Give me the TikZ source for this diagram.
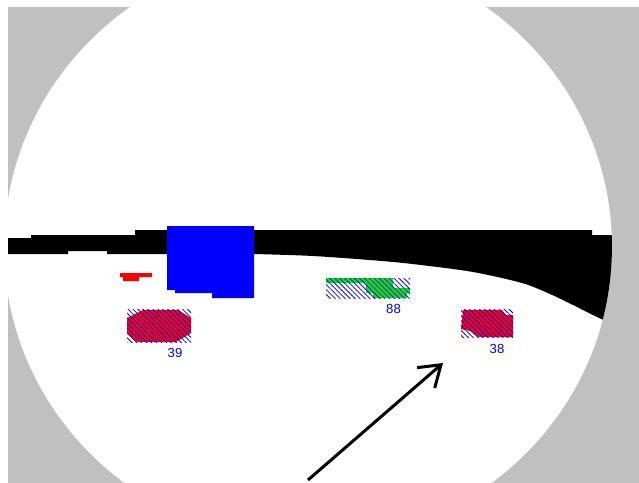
\documentclass[tikz,border=0pt]{standalone}
\usepackage{fontspec}
\newfontfamily\lblfont{Liberation Sans}
\usetikzlibrary{
	arrows.meta,
	patterns.meta
}
\definecolor{scopegray}{RGB}{192,192,192}
\definecolor{echogreen}{RGB}{0,235,0}

\begin{document}
\begin{tikzpicture}[
			x=0.02cm,
			y=-0.02cm,
			hatch/.style={
				pattern={Lines[angle=-45,distance=0.07cm,line width=0.016cm]},
				pattern color=blue
			},
			echo/.style={
				fill=red
			},
			lbl/.style={
				text=blue,
				inner sep=0pt,
				font=\lblfont\fontsize{7.5pt}{9pt}\selectfont
			},
			arr/.style={
				line width=0.06cm,
				-{Straight Barb[length=0.4cm,width=0.54cm]}
			}
			]
			
			\fill[white] (0,0) rectangle (639,483);
			\useasboundingbox (0,0) rectangle (639,483);
			
			\begin{scope}
				\clip (8,7) rectangle (639,483);
				\fill[scopegray] (8,7) rectangle (639,483);
				\fill[white] (308,247) ellipse [x radius=6.08cm, y radius=5.92cm];
				\clip (308,247) ellipse [x radius=6.08cm, y radius=5.92cm];
				\fill[black] (0,238) -- (31,238) -- (31,235) -- (135,235) -- (135,230)
					-- (592,230) -- (592,235) -- (640,235) -- (640,332)
					-- plot[smooth] coordinates {(620,327) (597,317) (573,305) (550,294) (522,283) (473,272) (421,265) (382,261) (313,256) (254,254)}
					-- (107,254) -- (107,251) -- (68,251) -- (68,254) -- (0,254) -- cycle;
			\end{scope}
			
			\fill[blue] (167,226) -- (254,226) -- (254,298) -- (212,298) -- (212,293)
				-- (175,293) -- (175,290) -- (167,290) -- cycle;
			
			\fill[red] (120,273) rectangle (152,277) (123,277) rectangle (139,281);
			
			\fill[echo] (143,310) -- (178,310) -- (191,318) -- (191,333) -- (176,342)
				-- (137,342) -- (127,333) -- (127,318) -- cycle;
			\path[hatch] (127,309) rectangle (191,342);
			
			\fill[echogreen] (326,278) -- (393,278) -- (393,288) -- (410,288) -- (410,293)
				-- (407,293) -- (407,298) -- (373,298) -- (373,293) -- (366,293)
				-- (366,283) -- (326,283) -- cycle;
			\path[hatch] (326,278) rectangle (410,298);
			
			\fill[echo] (463,310) -- (502,310) -- (506,315) -- (513,315) -- (513,337)
				-- (478,337) -- (470,331) -- (461,329) -- cycle;
			\path[hatch] (461,309) rectangle (513,337);
			
			\node[lbl] (n39) at (175,352.5) {39};
			\node[lbl] (n88) at (393.5,308.5) {88};
			\node[lbl] (n38) at (497,348.5) {38};
			
			\coordinate (tail) at (308,480);
			\coordinate (tip) at (443,363);
			\draw[arr] (tail) -- (tip);
			
		\end{tikzpicture}
\end{document}
